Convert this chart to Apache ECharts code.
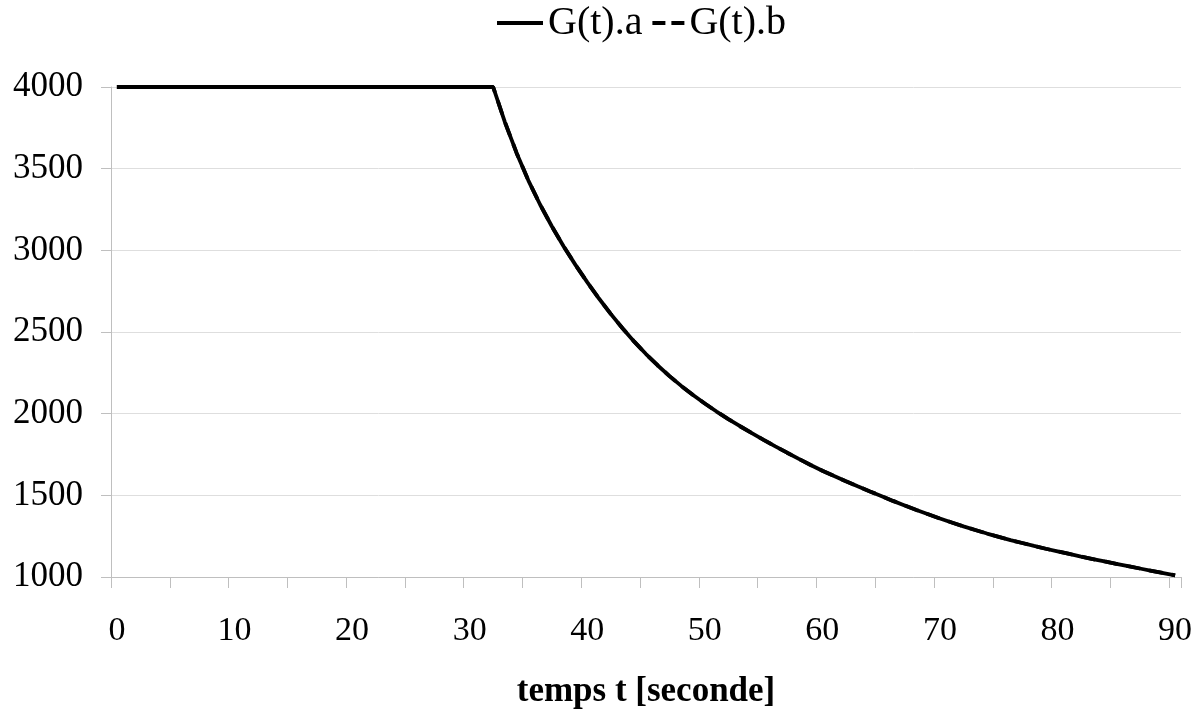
<!DOCTYPE html>
<html>
<head>
<meta charset="utf-8">
<script src="https://cdn.jsdelivr.net/npm/echarts@6/dist/echarts.min.js"></script>
<style>
  html, body { margin: 0; padding: 0; background: #fff; }
  #chart { width: 1203px; height: 715px; }
</style>
</head>
<body>
<div id="chart"></div>
<script>
// x categories: time t (seconds) 0..90
const timeCategories = [];
for (let i = 0; i <= 90; i++) timeCategories.push(String(i));

// G(t).a values (t = 0 .. 90)
const gA = [
  4000, 4000, 4000, 4000, 4000, 4000, 4000, 4000, 4000, 4000,
  4000, 4000, 4000, 4000, 4000, 4000, 4000, 4000, 4000, 4000,
  4000, 4000, 4000, 4000, 4000, 4000, 4000, 4000, 4000, 4000,
  4000, 4000, 4000,
  3785, 3595, 3427, 3279, 3146, 3024, 2911, 2805, 2705, 2611,
  2523, 2441, 2365, 2295, 2230, 2170, 2114, 2062, 2013, 1967,
  1923, 1881, 1840, 1800, 1761, 1723, 1686, 1651, 1618, 1586,
  1555, 1525, 1496, 1466, 1438, 1410, 1384, 1358, 1334, 1310,
  1288, 1266, 1246, 1226, 1208, 1190, 1173, 1157, 1141, 1125,
  1110, 1095, 1081, 1066, 1052, 1038, 1024, 1010
];
// G(t).b coincides with G(t).a in the picture
const gB = gA.slice();

const seriesNames = ['G(t).a', 'G(t).b'];
const yTicks = { min: 1000, max: 4000, interval: 500 };

const FONT = '"Liberation Serif", "Times New Roman", serif';
const chart = echarts.init(document.getElementById('chart'), null, { renderer: 'canvas' });

chart.setOption({
  animation: false,
  backgroundColor: '#ffffff',
  legend: {
    top: 3,
    left: 497,
    padding: 0,
    itemWidth: 46,
    itemHeight: 4,
    itemGap: -4,
    textStyle: { fontFamily: FONT, fontSize: 40, color: '#000' },
    data: [
      { name: seriesNames[0], icon: 'path://M0,0H46V4H0Z', itemStyle: { color: '#000' } },
      { name: seriesNames[1], icon: 'path://M0,0M46,4M14,0H27V4H14ZM33,0H46V4H33Z', itemStyle: { color: '#000' } }
    ]
  },
  grid: { left: 111, right: 22, top: 87, bottom: 138, containLabel: false },
  xAxis: {
    type: 'category',
    data: timeCategories,
    boundaryGap: true,
    name: 'temps t [seconde]',
    nameLocation: 'middle',
    nameGap: 97,
    nameTextStyle: { fontFamily: FONT, fontSize: 35, fontWeight: 'bold', color: '#000' },
    axisLine: { show: true, lineStyle: { color: '#bfbfbf', width: 1 } },
    axisTick: { show: true, interval: 4, length: 11, lineStyle: { color: '#bfbfbf' } },
    axisLabel: { interval: 9, margin: 37, fontFamily: FONT, fontSize: 34, color: '#000' },
    splitLine: { show: false }
  },
  yAxis: {
    type: 'value',
    min: yTicks.min,
    max: yTicks.max,
    interval: yTicks.interval,
    axisLine: { show: true, lineStyle: { color: '#bfbfbf', width: 1 } },
    axisTick: { show: true, length: 10, lineStyle: { color: '#bfbfbf' } },
    axisLabel: { margin: 28, fontFamily: FONT, fontSize: 35, color: '#000',
                 formatter: function (v) { return String(v); } },
    splitLine: { show: true, lineStyle: { color: '#dedede', width: 1 } }
  },
  series: [
    {
      name: seriesNames[0],
      type: 'line',
      data: gA,
      symbol: 'none',
      color: '#000',
      lineStyle: { color: '#000', width: 3.8, type: 'solid' },
      z: 2
    },
    {
      name: seriesNames[1],
      type: 'line',
      data: gB,
      symbol: 'none',
      color: '#000',
      lineStyle: { color: '#000', width: 3.8, type: [14, 9] },
      z: 3
    }
  ]
});
</script>
</body>
</html>
